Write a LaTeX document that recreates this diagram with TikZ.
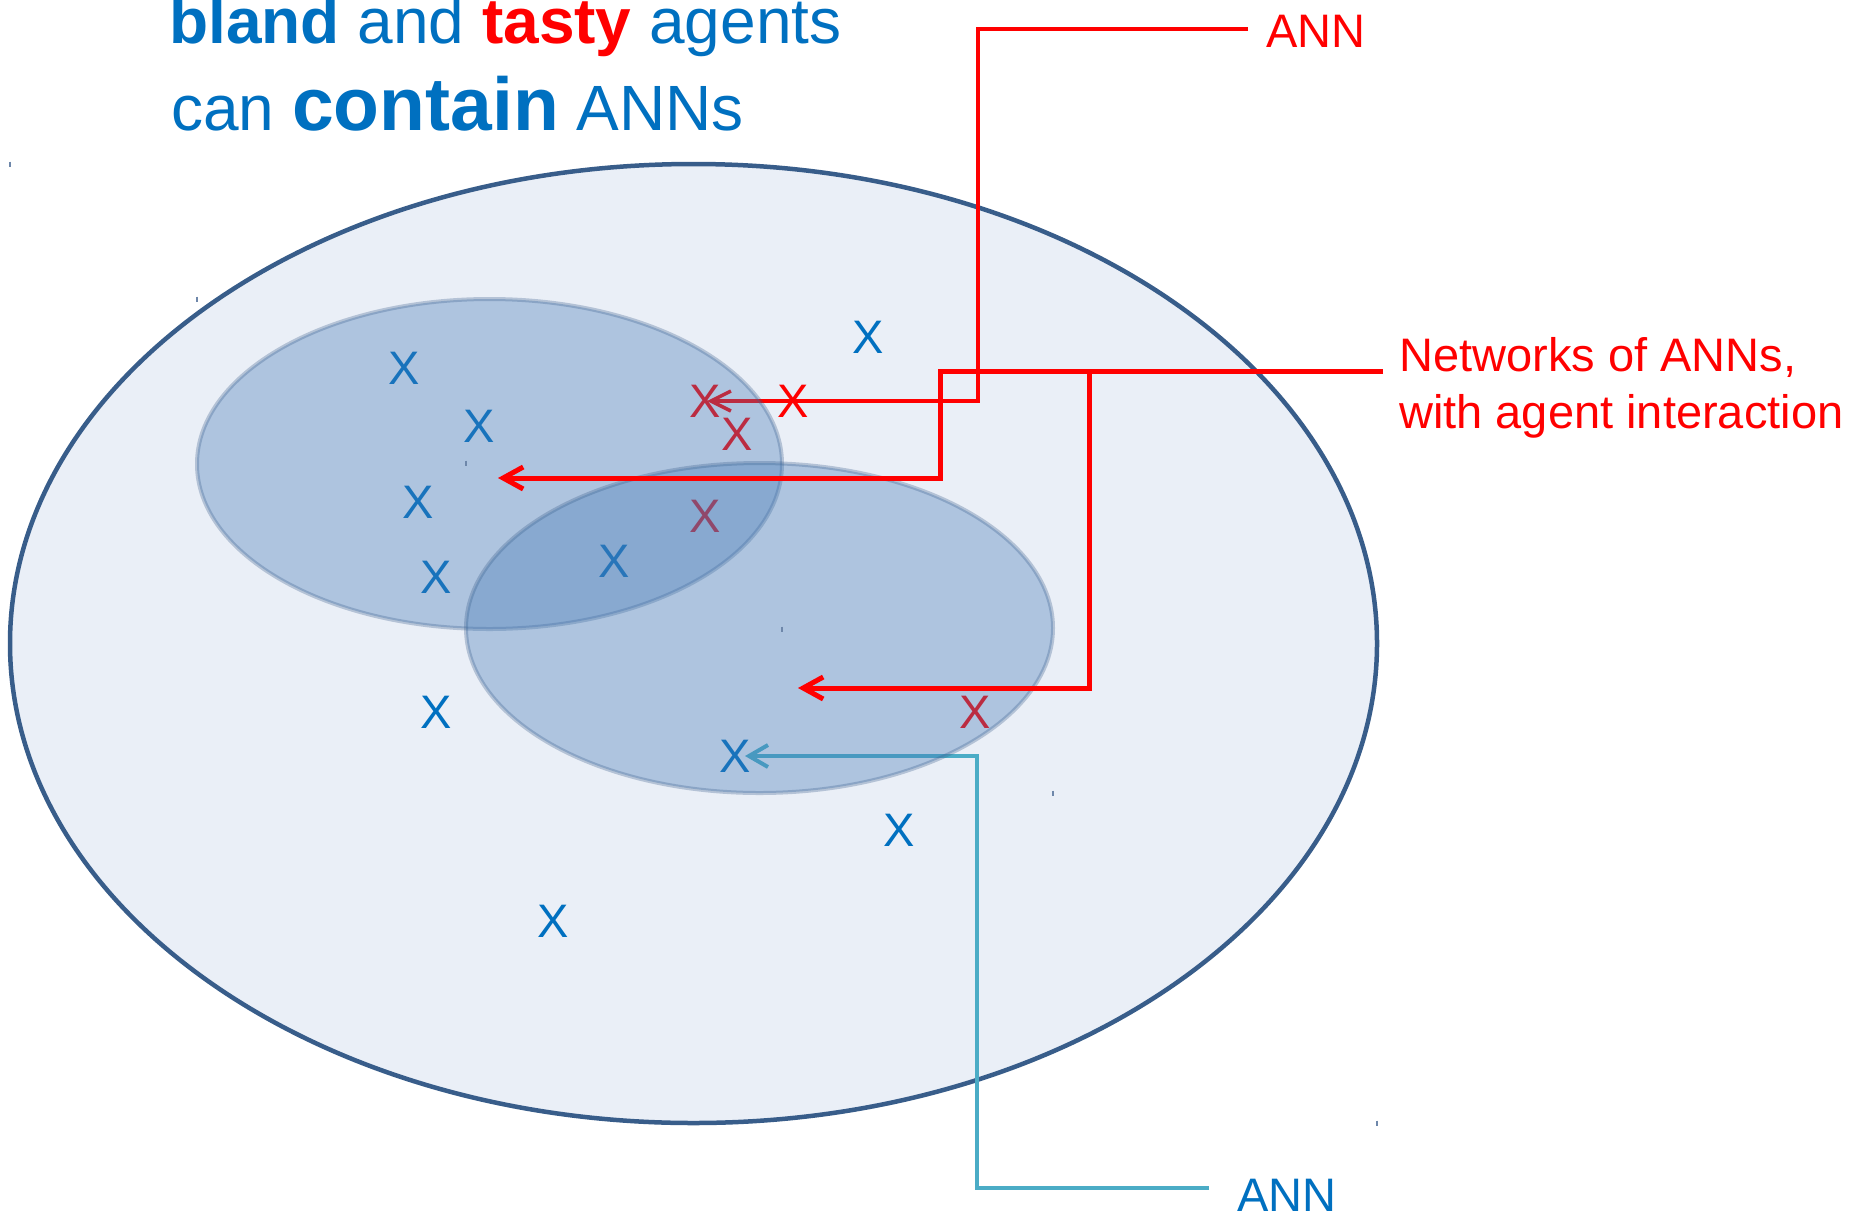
\documentclass[tikz,border=0pt]{standalone}
\usepackage{fontspec}
\setmainfont{Liberation Sans}
\usetikzlibrary{arrows.meta}

\definecolor{txtblue}{RGB}{0,112,192}
\definecolor{txtred}{RGB}{255,0,0}
\definecolor{linkcyan}{RGB}{75,172,198}
\definecolor{worldfill}{RGB}{234,239,247}
\definecolor{worldedge}{RGB}{56,93,138}
\definecolor{groupfill}{RGB}{69,122,182}
\definecolor{tickgrey}{RGB}{110,135,170}

\begin{document}
\begin{tikzpicture}[x=1pt,y=-1pt,
  agentx/.style={inner sep=0pt, text depth=0pt, font=\fontsize{47}{56}\selectfont},
  bland agent/.style={agentx, text=txtblue},
  tasty agent/.style={agentx, text=txtred},
  callout/.style={inner sep=0pt, font=\fontsize{47}{57}\selectfont},
  headline/.style={inner sep=0pt, anchor=base west, text=txtblue, font=\fontsize{64}{77}\selectfont},
  world/.style={fill=worldfill, draw=worldedge, line width=4.5pt},
  group/.style={fill=groupfill, fill opacity=0.36, draw=worldedge, draw opacity=0.3, line width=4pt},
  annwire/.style={draw=txtred, line width=3.5pt, -{Straight Barb[length=20pt,width=20pt]}},
  netwire/.style={draw=txtred, line width=5pt, -{Straight Barb[length=20pt,width=22pt]}},
  cywire/.style={draw=linkcyan, line width=4pt, -{Straight Barb[length=19pt,width=22pt]}},
  corner tick/.style={draw=tickgrey, line width=1.5pt}
]
\useasboundingbox (0,0) rectangle (1873,1216);
\fill[white] (0,0) rectangle (1873,1216);

% the population of all agents
\path[world] (693.5,643.5) ellipse [x radius=683.5, y radius=479.5];

% headline
\node[headline] (titleA) at (169,43)
  {\textbf{bland} and \textcolor{txtred}{\textbf{tasty}} agents};
\node[headline] (titleB) at (171,130)
  {can {\fontsize{75}{90}\selectfont\textbf{contain}} ANNs};

% callouts (base of the two-line callout is its second line)
\node[callout, text=txtred, anchor=base west] (annTop) at (1266,47) {ANN};
\node[callout, text=txtred, anchor=base west, align=left] (netLbl) at (1399,428)
  {Networks of ANNs,\\with agent interaction};
\node[callout, text=txtblue, anchor=base west] (annBot) at (1237,1211) {ANN};

% bland agents
\node[bland agent] (xb1)  at (404,368) {X};
\node[bland agent] (xb2)  at (479,426) {X};
\node[bland agent] (xb3)  at (418,502) {X};
\node[bland agent] (xb4)  at (436,577) {X};
\node[bland agent] (xb5)  at (614,561) {X};
\node[bland agent] (xb6)  at (868,337) {X};
\node[bland agent] (xb7)  at (436,712) {X};
\node[bland agent] (xb8)  at (735,756) {X};
\node[bland agent] (xb9)  at (899,830) {X};
\node[bland agent] (xb10) at (553,921) {X};

% tasty agents
\node[tasty agent] (xr1) at (705,401) {X};
\node[tasty agent] (xr2) at (793,401) {X};
\node[tasty agent] (xr3) at (737,434) {X};
\node[tasty agent] (xr4) at (705,516) {X};
\node[tasty agent] (xr5) at (975,712) {X};

% guide columns and free arrow ends
\coordinate (annCol)  at (978,0);
\coordinate (cyCol)   at (977,0);
\coordinate (netColA) at (940,0);
\coordinate (netColB) at (1089,0);
\coordinate (netTipA) at (498,478);
\coordinate (netTipB) at (798,688);
\coordinate (netStart) at ([shift={(-16pt,57pt)}]netLbl.base west);

% single ANN pointers
\draw[annwire] ([shift={(-18pt,2pt)}]annTop.west) -| (annCol |- xr1.center)
  -- ([xshift=2pt]xr1.center);
\draw[cywire] ([shift={(-28pt,7pt)}]annBot.west) -| (cyCol |- xb8.center)
  -- ([xshift=10pt]xb8.center);

% agent groups
\path[group] (489.5,464) ellipse [x radius=292.5, y radius=165];
\path[group] (759.5,628) ellipse [x radius=293.5, y radius=165];

% networks of ANNs
\draw[netwire] (netStart) -| (netColA |- netTipA) -- (netTipA);
\draw[netwire] (netColB |- netStart) |- (netTipB);

% small corner marks of the shapes
\foreach \cx/\cy in {10/164, 1377/1123, 197/299, 782/629, 466/463, 1053/793}
  \draw[corner tick] (\cx,\cy-2.5) -- (\cx,\cy+2.5);
\end{tikzpicture}
\end{document}
